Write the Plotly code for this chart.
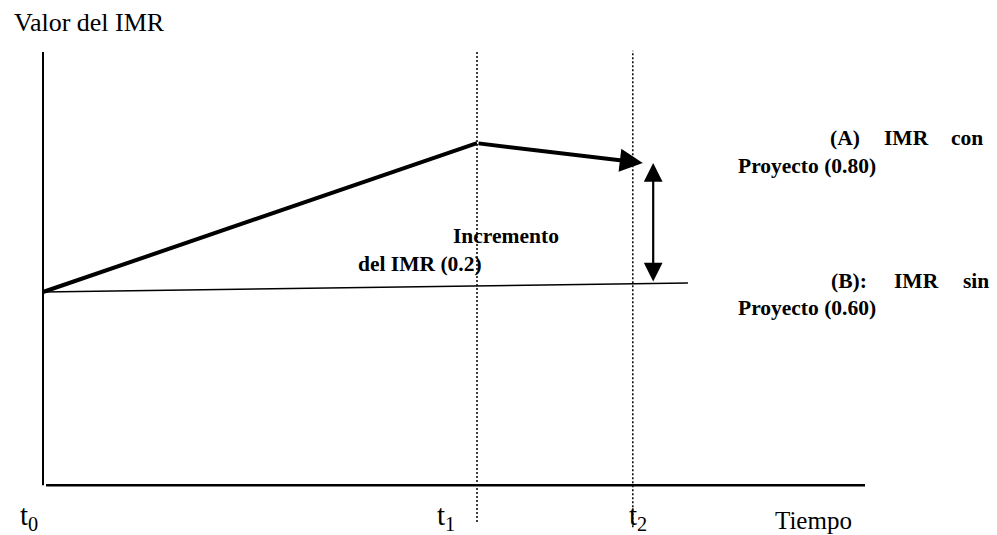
import plotly.graph_objects as go

# ---- data (time in units of t1, IMR value) ----
time_A = [0.0, 1.0]              # t0 -> t1 segment of "con Proyecto"
imr_A = [0.585, 0.833]
arrow_A_end_t = 1.382            # tip of arrow (just after t2)
arrow_A_end_imr = 0.800
time_B = [0.0, 1.486]            # "sin Proyecto"
imr_B = [0.585, 0.600]
t_marks = [1.0, 1.359]           # t1, t2 dotted guides
incr_t = 1.406                   # position of the increment arrow
incr_top = 0.800
incr_bottom = 0.600
tick_labels = ["t<sub>0</sub>", "t<sub>1</sub>", "t<sub>2</sub>"]

W, H = 997, 535
X0 = -43 / 434                   # axis range so that t0 sits at the drawn origin
X1 = (W - 43) / 434
Y1 = 0.6 + 283 / 600
Y0 = 0.6 - (H - 283) / 600

def px_x(v):
    return v / W

def px_y(v):
    return 1 - v / H

FONT = "Liberation Serif, Times New Roman, serif"

fig = go.Figure()

# axes lines
fig.add_trace(go.Scatter(x=[0, 0], y=[0.263, 0.985], mode="lines",
                         line=dict(color="black", width=2), hoverinfo="skip"))
fig.add_trace(go.Scatter(x=[0.007, 1.894], y=[0.263, 0.263], mode="lines",
                         line=dict(color="black", width=2.5), hoverinfo="skip"))

# dotted guides
fig.add_trace(go.Scatter(x=[t_marks[0], t_marks[0]], y=[0.2017, 0.987], mode="lines",
                         line=dict(color="black", width=1.5, dash="2px,2px"), hoverinfo="skip"))
fig.add_trace(go.Scatter(x=[t_marks[1], t_marks[1]], y=[0.193, 0.987], mode="lines",
                         line=dict(color="black", width=1.5, dash="2px,2px"), hoverinfo="skip"))

# line B (thin)
fig.add_trace(go.Scatter(x=time_B, y=imr_B, mode="lines",
                         line=dict(color="black", width=1.5), hoverinfo="skip"))
# line A (thick)
fig.add_trace(go.Scatter(x=time_A, y=imr_A, mode="lines",
                         line=dict(color="black", width=4), hoverinfo="skip"))

annotations = []
# arrow segment of line A
annotations.append(dict(x=arrow_A_end_t, y=arrow_A_end_imr, xref="x", yref="y",
                        ax=time_A[-1], ay=imr_A[-1], axref="x", ayref="y",
                        showarrow=True, arrowhead=2, arrowwidth=4, arrowsize=1.15,
                        arrowcolor="black", standoff=0, text=""))
# double arrow (increment)
annotations.append(dict(x=incr_t, y=incr_top, xref="x", yref="y",
                        ax=incr_t, ay=incr_bottom, axref="x", ayref="y",
                        showarrow=True, arrowhead=2, startarrowhead=2,
                        arrowside="end+start", arrowwidth=2.2, arrowsize=1.7,
                        startarrowsize=1.7, arrowcolor="black",
                        standoff=0, startstandoff=0, text=""))

def txt(text, px, py, size, bold=False, xanchor="center"):
    t = f"<b>{text}</b>" if bold else text
    annotations.append(dict(text=t, x=px_x(px), y=px_y(py), xref="paper", yref="paper",
                            xanchor=xanchor, yanchor="middle", showarrow=False,
                            font=dict(family=FONT, size=size, color="black")))

txt("Valor del IMR", 12, 22, 26, xanchor="left")
txt(tick_labels[0], 29, 517, 29)
txt(tick_labels[1], 446, 517, 29)
txt(tick_labels[2], 638, 517, 29)
txt("Tiempo", 813, 520, 25)

txt("Incremento", 506, 236, 21.5, bold=True)
txt("del IMR (0.2)", 420, 264, 21.5, bold=True)

txt("(A)", 828, 138, 21.5, bold=True, xanchor="left")
txt("IMR", 906, 138, 21.5, bold=True)
txt("con", 985, 138, 21.5, bold=True, xanchor="right")
txt("Proyecto (0.80)", 736, 166, 21.5, bold=True, xanchor="left")

txt("(B):", 829, 281, 21.5, bold=True, xanchor="left")
txt("IMR", 916, 281, 21.5, bold=True)
txt("sin", 991, 281, 21.5, bold=True, xanchor="right")
txt("Proyecto (0.60)", 736, 308, 21.5, bold=True, xanchor="left")

fig.update_layout(
    width=W, height=H,
    margin=dict(l=0, r=0, t=0, b=0),
    paper_bgcolor="white", plot_bgcolor="white",
    showlegend=False,
    xaxis=dict(range=[X0, X1], visible=False, fixedrange=True),
    yaxis=dict(range=[Y0, Y1], visible=False, fixedrange=True),
    annotations=annotations,
)

fig.write_html("out.html", config={"displayModeBar": False},
               post_script="document.body.style.margin='0';document.body.style.overflow='hidden';")
